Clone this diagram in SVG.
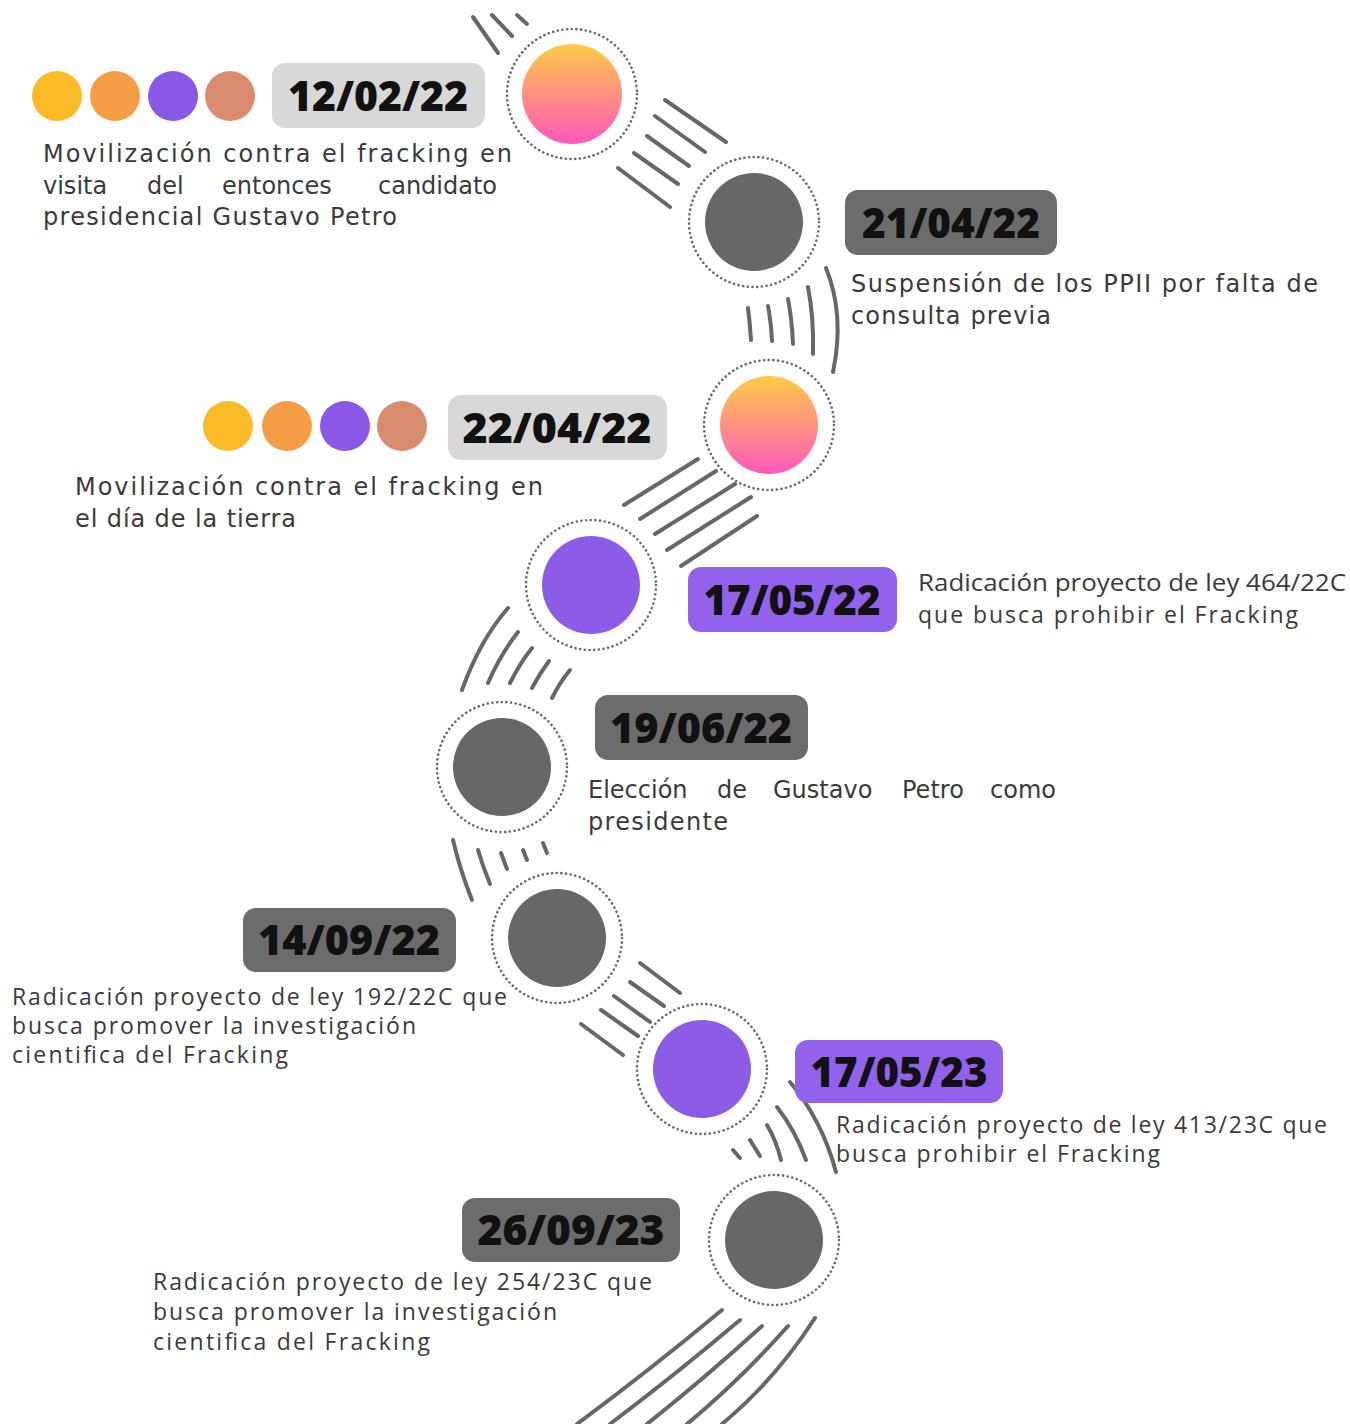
<svg xmlns="http://www.w3.org/2000/svg" width="1350" height="1424" viewBox="0 0 1350 1424">
<defs>
<linearGradient id="warm" x1="0" y1="0" x2="0" y2="1">
<stop offset="0" stop-color="#ffcb45"/>
<stop offset="1" stop-color="#ff58bd"/>
</linearGradient>
<style>
.ring{fill:none;stroke:#6a6a6a;stroke-width:2.6;stroke-dasharray:0.1 4.6;stroke-linecap:round}
.grey{fill:#676767}
.purple{fill:#8d5ce6}
.warm{fill:url(#warm)}
.conn path{fill:none;stroke:#676767;stroke-width:4;stroke-linecap:round}
.boxL{fill:#d8d8d8}
.boxD{fill:#6c6c6c}
.boxP{fill:#9262ec}
.date{font-family:"Open Sans","Noto Sans",sans-serif;font-weight:800;font-size:42px;fill:#111;text-anchor:middle}
.dA{font-family:"DejaVu Sans",sans-serif;font-size:24px;fill:#3a3a3a}
.dB{font-family:"Open Sans","Noto Sans",sans-serif;font-size:23px;fill:#3a3a3a}
.y{fill:#fbbb27}.o{fill:#f59d45}.v{fill:#8b58e6}.s{fill:#d98b70}
</style>
</defs>
<rect width="1350" height="1424" fill="#fff"/>

<g id="connectors" class="conn">
<path d="M473,17 L498,53"/>
<path d="M492,15 L512,36"/>
<path d="M517,15 L527,24"/>

<path d="M665,100 L726,142"/>
<path d="M655,116 L705,152"/>
<path d="M647,136 L689,166"/>
<path d="M634,153 L678,184"/>
<path d="M618,168 L670,207"/>

<path d="M748,308 Q750,324 751,340"/>
<path d="M768,306 Q771,322 772,341"/>
<path d="M788,299 Q792,320 793,344"/>
<path d="M808,287 Q814,318 813,354"/>
<path d="M826,268 Q845,315 833,372"/>

<path d="M624,505 L698,459"/>
<path d="M640,519 L716,471"/>
<path d="M655,534 L735,484"/>
<path d="M667,550 L751,497"/>
<path d="M681,566 L757,516"/>

<path d="M462,690 Q480,640 508,608"/>
<path d="M488,683 Q500,655 518,632"/>
<path d="M510,683 Q520,663 532,648"/>
<path d="M532,688 Q540,673 549,661"/>
<path d="M552,698 Q560,682 570,670"/>

<path d="M453,840 Q460,870 472,900"/>
<path d="M478,850 Q483,867 490,884"/>
<path d="M501,853 L507,869"/>
<path d="M523,850 L527,860"/>
<path d="M543,843 L547,853"/>

<path d="M640,963 L680,993"/>
<path d="M630,982 L664,1006"/>
<path d="M614,996 L650,1022"/>
<path d="M601,1010 L638,1036"/>
<path d="M581,1024 L623,1055"/>

<path d="M733,1150 L740,1158"/>
<path d="M750,1140 L760,1156"/>
<path d="M767,1125 Q776,1140 781,1160"/>
<path d="M777,1107 Q795,1130 806,1160"/>
<path d="M790,1082 Q822,1120 836,1172"/>

<path d="M722,1310 Q650,1370 577,1424"/>
<path d="M740,1320 Q675,1375 610,1424"/>
<path d="M762,1326 Q705,1378 647,1424"/>
<path d="M788,1326 Q740,1380 687,1424"/>
<path d="M815,1318 Q775,1380 722,1424"/>
</g>

<g id="node1">
<circle class="ring" cx="572" cy="94" r="65"/>
<circle class="warm" cx="572" cy="94" r="50"/>
<circle class="y" cx="57" cy="96" r="25"/>
<circle class="o" cx="115" cy="96" r="25"/>
<circle class="v" cx="173" cy="96" r="25"/>
<circle class="s" cx="230" cy="96" r="25"/>
<rect class="boxL" x="272" y="63" width="213" height="65" rx="13"/>
<text class="date" x="378" y="111" textLength="180" lengthAdjust="spacingAndGlyphs">12/02/22</text>
<text class="dA" x="43" y="162" textLength="469" lengthAdjust="spacing">Movilización contra el fracking en</text>
<text class="dA" y="194"><tspan x="43">visita</tspan><tspan x="147">del</tspan><tspan x="222">entonces</tspan><tspan x="378">candidato</tspan></text>
<text class="dA" x="43" y="225" textLength="354" lengthAdjust="spacing">presidencial Gustavo Petro</text>
</g>

<g id="node2">
<circle class="ring" cx="754" cy="222" r="65"/>
<circle class="grey" cx="754" cy="222" r="49"/>
<rect class="boxD" x="845" y="190" width="212" height="65" rx="13"/>
<text class="date" x="951" y="238" textLength="178" lengthAdjust="spacingAndGlyphs">21/04/22</text>
<text class="dA" x="851" y="292" textLength="467" lengthAdjust="spacing">Suspensión de los PPII por falta de</text>
<text class="dA" x="851" y="324" textLength="200" lengthAdjust="spacing">consulta previa</text>
</g>

<g id="node3">
<circle class="ring" cx="769" cy="425" r="65"/>
<circle class="warm" cx="769" cy="425" r="49"/>
<circle class="y" cx="228" cy="426" r="25"/>
<circle class="o" cx="287" cy="426" r="25"/>
<circle class="v" cx="345" cy="426" r="25"/>
<circle class="s" cx="402" cy="426" r="25"/>
<rect class="boxL" x="448" y="395" width="219" height="65" rx="13"/>
<text class="date" x="557" y="443" textLength="189" lengthAdjust="spacingAndGlyphs">22/04/22</text>
<text class="dA" x="75" y="495" textLength="468" lengthAdjust="spacing">Movilización contra el fracking en</text>
<text class="dA" x="75" y="527" textLength="221" lengthAdjust="spacing">el día de la tierra</text>
</g>

<g id="node4">
<circle class="ring" cx="591" cy="585" r="65"/>
<circle class="purple" cx="591" cy="585" r="49"/>
<rect class="boxP" x="688" y="567" width="209" height="65" rx="13"/>
<text class="date" x="792" y="615" textLength="177" lengthAdjust="spacingAndGlyphs">17/05/22</text>
<text class="dB" x="918" y="591" textLength="428" lengthAdjust="spacingAndGlyphs">Radicación proyecto de ley 464/22C</text>
<text class="dB" x="918" y="623" textLength="380" lengthAdjust="spacing">que busca prohibir el Fracking</text>
</g>

<g id="node5">
<circle class="ring" cx="502" cy="767" r="65"/>
<circle class="grey" cx="502" cy="767" r="49"/>
<rect class="boxD" x="595" y="695" width="213" height="65" rx="13"/>
<text class="date" x="701" y="743" textLength="182" lengthAdjust="spacingAndGlyphs">19/06/22</text>
<text class="dA" y="798"><tspan x="588">Elección</tspan><tspan x="717">de</tspan><tspan x="773">Gustavo</tspan><tspan x="902">Petro</tspan><tspan x="990">como</tspan></text>
<text class="dA" x="588" y="830" textLength="140" lengthAdjust="spacing">presidente</text>
</g>

<g id="node6">
<circle class="ring" cx="557" cy="938" r="65"/>
<circle class="grey" cx="557" cy="938" r="49"/>
<rect class="boxD" x="243" y="908" width="213" height="64" rx="13"/>
<text class="date" x="349" y="955" textLength="182" lengthAdjust="spacingAndGlyphs">14/09/22</text>
<text class="dB" x="12" y="1005" textLength="495" lengthAdjust="spacing">Radicación proyecto de ley 192/22C que</text>
<text class="dB" x="12" y="1034" textLength="404" lengthAdjust="spacing">busca promover la investigación</text>
<text class="dB" x="12" y="1063" textLength="276" lengthAdjust="spacing">cientifica del Fracking</text>
</g>

<g id="node7">
<circle class="ring" cx="702" cy="1069" r="65"/>
<circle class="purple" cx="702" cy="1069" r="49"/>
<rect class="boxP" x="795" y="1040" width="208" height="63" rx="13"/>
<text class="date" x="899" y="1087" textLength="177" lengthAdjust="spacingAndGlyphs">17/05/23</text>
<text class="dB" x="836" y="1133" textLength="491" lengthAdjust="spacing">Radicación proyecto de ley 413/23C que</text>
<text class="dB" x="836" y="1162" textLength="324" lengthAdjust="spacing">busca prohibir el Fracking</text>
</g>

<g id="node8">
<circle class="ring" cx="774" cy="1240" r="65"/>
<circle class="grey" cx="774" cy="1240" r="49"/>
<rect class="boxD" x="462" y="1198" width="218" height="64" rx="13"/>
<text class="date" x="571" y="1245" textLength="187" lengthAdjust="spacingAndGlyphs">26/09/23</text>
<text class="dB" x="153" y="1290" textLength="499" lengthAdjust="spacing">Radicación proyecto de ley 254/23C que</text>
<text class="dB" x="153" y="1320" textLength="404" lengthAdjust="spacing">busca promover la investigación</text>
<text class="dB" x="153" y="1350" textLength="277" lengthAdjust="spacing">cientifica del Fracking</text>
</g>
</svg>
